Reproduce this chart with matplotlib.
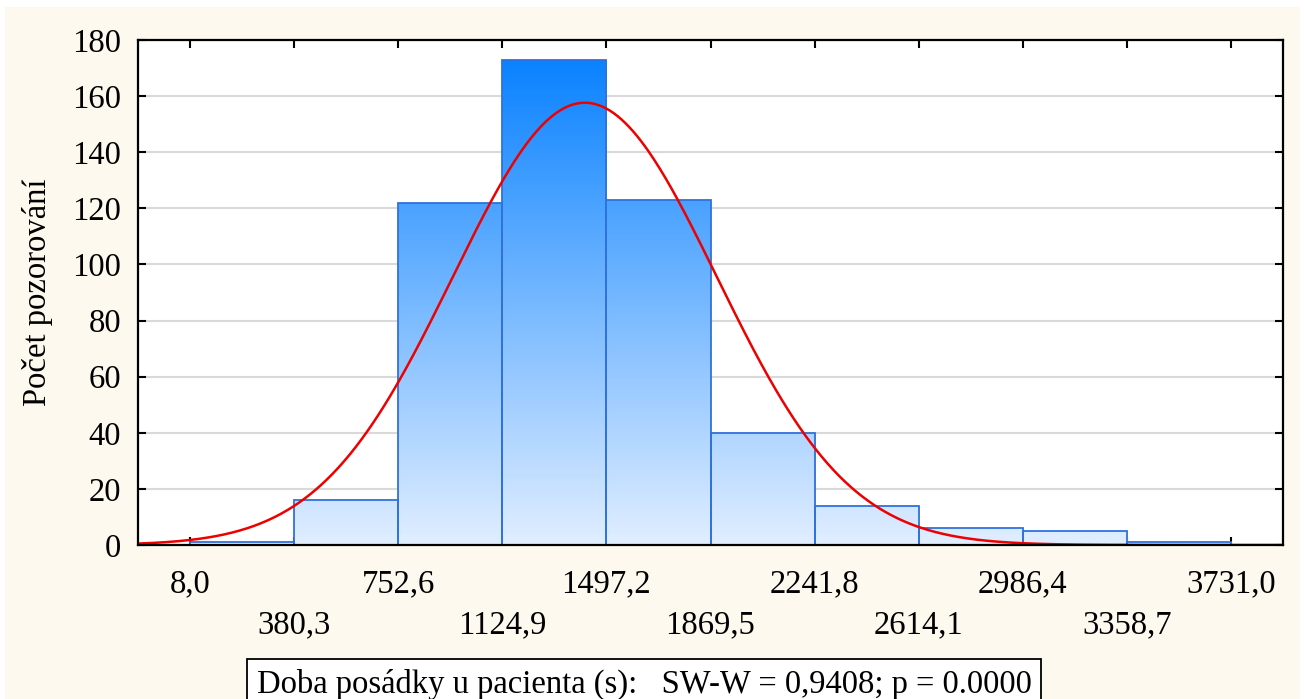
import numpy as np
import matplotlib
matplotlib.use("Agg")
import matplotlib.pyplot as plt
from matplotlib.patches import Rectangle
from matplotlib.colors import LinearSegmentedColormap

# ---- data ----
bin_edges = [8.0, 380.3, 752.6, 1124.9, 1497.2, 1869.5, 2241.8, 2614.1, 2986.4, 3358.7, 3731.0]
tick_labels = ["8,0", "380,3", "752,6", "1124,9", "1497,2", "1869,5",
               "2241,8", "2614,1", "2986,4", "3358,7", "3731,0"]
counts = [1, 16, 122, 173, 123, 40, 14, 6, 5, 1]
fit_mean = 1420.0
fit_sd = 472.0
n_obs = sum(counts)
y_ticks = [0, 20, 40, 60, 80, 100, 120, 140, 160, 180]
ylabel = "Počet pozorování"
legend_text = "Doba posádky u pacienta (s):   SW-W = 0,9408; p = 0.0000"

plt.rcParams['font.family'] = ['Liberation Serif', 'DejaVu Serif']

W, H = 1304, 699
fig = plt.figure(figsize=(W / 100, H / 100), dpi=100, facecolor='white')
# cream background panel
fig.patches.append(Rectangle((5 / W, 0), (1300 - 5) / W, (H - 7) / H,
                             transform=fig.transFigure, facecolor='#fdf9ee',
                             edgecolor='none', zorder=-10))

ax = fig.add_axes([138 / W, 1 - 545 / H, (1283 - 138) / W, (545 - 40) / H])
ax.set_zorder(1)
ax.set_facecolor('white')

bw = bin_edges[1] - bin_edges[0]
xmin, xmax = bin_edges[0] - bw / 2, bin_edges[-1] + bw / 2
ax.set_xlim(xmin, xmax)
ax.set_ylim(0, 180)

# grid
ax.set_yticks(y_ticks)
ax.yaxis.grid(True, color='#d9d9d9', linewidth=1.5, zorder=0)
ax.set_axisbelow(True)

# gradient bars
cmap = LinearSegmentedColormap.from_list('g', [(225/255, 238/255, 255/255), (10/255, 130/255, 255/255)])
grad = np.linspace(0, 1, 256).reshape(-1, 1)
top = max(counts)
for i, c in enumerate(counts):
    x0 = bin_edges[i]
    rect = Rectangle((x0, 0), bw, c, facecolor='none', edgecolor='#2f72dc',
                     linewidth=1.3, zorder=3)
    ax.add_patch(rect)
    im = ax.imshow(grad, extent=(xmin, xmax, 0, top), origin='lower', cmap=cmap,
                   aspect='auto', zorder=2, interpolation='bilinear')
    im.set_clip_path(rect)
ax.set_xlim(xmin, xmax)
ax.set_ylim(0, 180)

# normal fit curve
xs = np.linspace(xmin, xmax, 600)
ys = n_obs * bw / (fit_sd * np.sqrt(2 * np.pi)) * np.exp(-0.5 * ((xs - fit_mean) / fit_sd) ** 2)
ax.plot(xs, ys, color='#ee0000', linewidth=1.8, zorder=4)

# ticks
ax.set_xticks(bin_edges)
ax.set_xticklabels([lab if i % 2 == 0 else "\n" + lab for i, lab in enumerate(tick_labels)])
ax.tick_params(axis='both', direction='in', length=6, width=1.5, labelsize=23.5,
               top=True, right=True)
ax.tick_params(axis='x', pad=17)
ax.tick_params(axis='y', pad=12)
for t in ax.get_xticklabels():
    t.set_linespacing(1.45)
for s in ax.spines.values():
    s.set_linewidth(1.6)
    s.set_color('black')
    s.set_zorder(5)

fig.text(38 / W, 1 - 292 / H, ylabel, rotation=90, fontsize=23.5, ha='center', va='center')

fig.text(644 / W, 1 - 684 / H, legend_text, fontsize=23.5, ha='center', va='center',
         bbox=dict(boxstyle='square,pad=0.3', facecolor='white', edgecolor='black', linewidth=1.3))

fig.savefig('out.png', dpi=100, facecolor=fig.get_facecolor())
